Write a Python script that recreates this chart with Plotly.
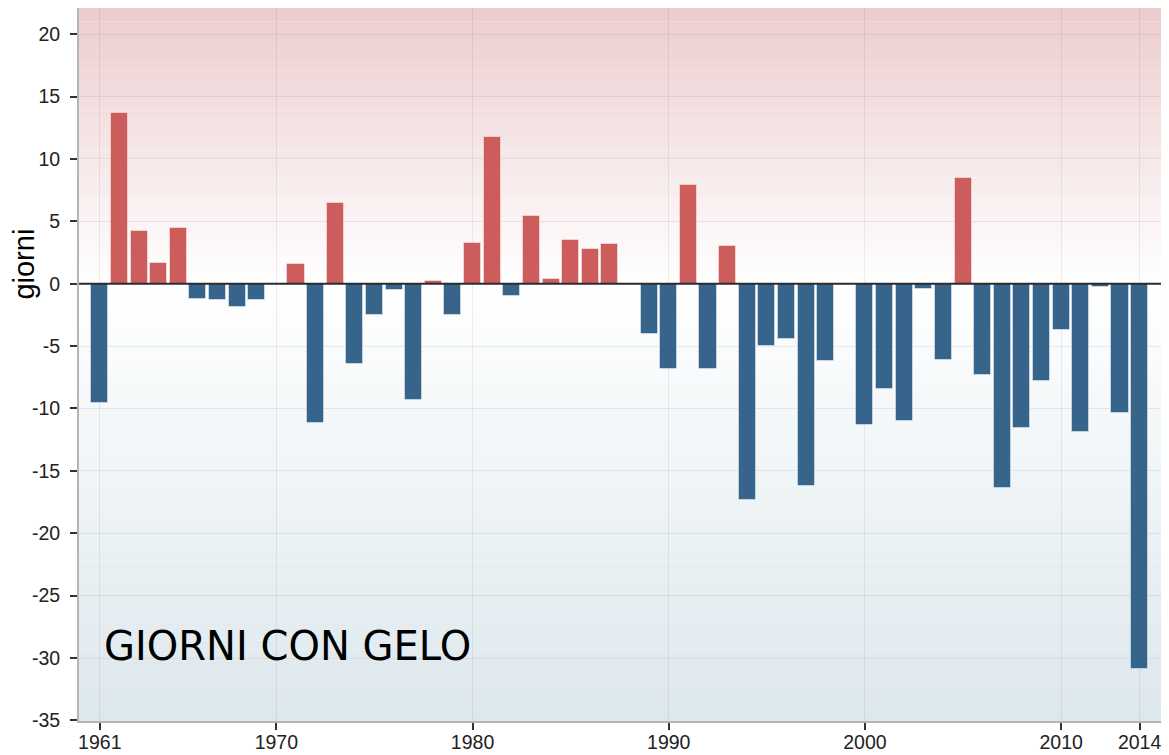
import plotly.graph_objects as go

# ---- data ----
years = list(range(1961, 2015))
anomaly_days = [
    -9.6, 13.7, 4.2, 1.7, 4.5, -1.2, -1.3, -1.9, -1.3, 0.0,
    1.6, -11.2, 6.5, -6.4, -2.5, -0.5, -9.3, 0.2, -2.5, 3.3,
    11.8, -1.0, 5.4, 0.4, 3.5, 2.8, 3.2, 0.0, -4.0, -6.8,
    7.9, -6.8, 3.0, -17.3, -5.0, -4.4, -16.2, -6.2, 0.0, -11.3,
    -8.4, -11.0, -0.4, -6.1, 8.5, -7.3, -16.4, -11.6, -7.8, -3.7,
    -11.9, -0.3, -10.4, -30.9,
]
x_tick_vals = [1961, 1970, 1980, 1990, 2000, 2010, 2014]
x_tick_text = ["1961", "1970", "1980", "1990", "2000", "2010", "2014"]
y_tick_vals = [-35, -30, -25, -20, -15, -10, -5, 0, 5, 10, 15, 20]
y_tick_text = [str(v) for v in y_tick_vals]
chart_label = "GIORNI CON GELO"
y_title = "giorni"

POS_COLOR = "#CD5C5C"
NEG_COLOR = "#36648B"
X_RANGE = [1959.94, 2015.09]
Y_RANGE = [-35.05, 22.1]

TOP_RGB = (236, 204, 206)
MID_RGB = (255, 255, 255)
BOT_RGB = (220, 231, 236)

fig = go.Figure()

fig.add_trace(go.Bar(
    x=years,
    y=anomaly_days,
    width=0.87,
    marker=dict(
        color=[POS_COLOR if v > 0 else NEG_COLOR for v in anomaly_days],
        line=dict(color="rgba(255,255,255,0.45)", width=1),
    ),
    showlegend=False,
    hoverinfo="x+y",
))

# ---- background gradient (pink above zero, blue-grey below) ----
def lerp(c1, c2, t):
    return tuple(int(round(a + (b - a) * t)) for a, b in zip(c1, c2))

shapes = []
n_bands = 160
y0, y1 = Y_RANGE
step = (y1 - y0) / n_bands
for i in range(n_bands):
    lo = y0 + i * step
    hi = lo + step
    mid = (lo + hi) / 2
    if mid >= 0:
        c = lerp(MID_RGB, TOP_RGB, mid / y1)
    else:
        c = lerp(MID_RGB, BOT_RGB, mid / y0)
    shapes.append(dict(
        type="rect", xref="paper", yref="y", x0=0, x1=1, y0=lo, y1=hi + step * 0.05,
        fillcolor="rgb(%d,%d,%d)" % c, line=dict(width=0), layer="below",
    ))

# zero line on top of bars
shapes.append(dict(
    type="line", xref="paper", yref="y", x0=0, x1=1, y0=0, y1=0,
    line=dict(color="#2b2b2b", width=2), layer="above",
))

# the page body keeps an 8px default margin, so the figure is sized to fit the window
fig.update_layout(
    template="none",
    width=1161,
    height=747,
    margin=dict(l=71, r=8, t=0, b=34, pad=0),
    paper_bgcolor="white",
    plot_bgcolor="white",
    shapes=shapes,
    bargap=0,
    font=dict(family="Liberation Sans, Arial, sans-serif", color="#222222", size=19),
    annotations=[
        dict(
            text=chart_label, xref="x", yref="y", x=1961.1, y=-29.0,
            xanchor="left", yanchor="middle", showarrow=False,
            font=dict(family="DejaVu Sans", size=40, color="#000000"),
        ),
        dict(
            text=y_title, xref="paper", yref="y", x=-0.051, y=1.6,
            xanchor="center", yanchor="middle", textangle=-90, showarrow=False,
            font=dict(family="Liberation Sans, Arial, sans-serif", size=29, color="#000000"),
        ),
    ],
)

fig.update_xaxes(
    range=X_RANGE, automargin=False,
    tickmode="array", tickvals=x_tick_vals, ticktext=x_tick_text,
    ticks="outside", ticklen=7, tickwidth=1.5, tickcolor="#333333",
    showgrid=True, gridcolor="rgba(110,110,110,0.13)", gridwidth=1,
    zeroline=False,
    showline=True, linecolor="#b5b5b5", linewidth=2, mirror=True,
    tickfont=dict(size=19.5, color="#222222"),
    ticklabelstandoff=-4,
)
fig.update_yaxes(
    range=Y_RANGE, automargin=False,
    tickmode="array", tickvals=y_tick_vals, ticktext=y_tick_text,
    ticks="outside", ticklen=7, tickwidth=1.5, tickcolor="#333333",
    showgrid=True, gridcolor="rgba(110,110,110,0.13)", gridwidth=1,
    zeroline=False,
    showline=True, linecolor="#b5b5b5", linewidth=2, mirror=True,
    tickfont=dict(size=19.5, color="#222222"),
    ticklabelstandoff=6,
)

fig.write_html("out.html")
